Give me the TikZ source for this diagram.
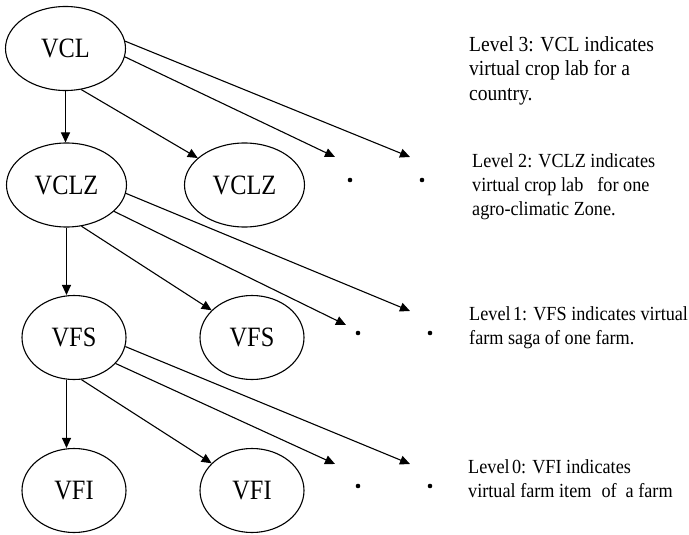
\documentclass[tikz,border=0pt]{standalone}
\usepackage{fontspec}
\setmainfont{Liberation Serif}
\newfontfamily\labelfont[FakeStretch=0.87]{Liberation Serif}
\newfontfamily\notefont[FakeStretch=0.91]{Liberation Serif}
\usetikzlibrary{shapes.geometric,arrows.meta}

\begin{document}
\begin{tikzpicture}[x=1pt,y=-1pt,
  levelnode/.style={ellipse,draw,line width=1.1pt,inner sep=0pt,
    font=\labelfont\fontsize{28}{28}\selectfont},
  wide/.style={levelnode,minimum width=120pt,minimum height=84pt},
  narrow/.style={levelnode,minimum width=104pt,minimum height=84pt},
  dotnode/.style={circle,fill=black,inner sep=0pt,minimum size=4.6pt},
  conn/.style={line width=1.1pt,-{Triangle[length=10pt,width=9pt]}},
  % anchored at the baseline of the last line
  note/.style={anchor=base west,align=left,inner sep=0pt,
    font=\notefont\fontsize{20}{24}\selectfont},
]
\useasboundingbox (0,0) rectangle (689,535);

% hierarchy levels
\node[wide]   (vcl)   at (65.5,48.5) {VCL};
\node[wide]   (vclzA) at (66.5,185)  {VCLZ};
\node[wide]   (vclzB) at (244.5,185) {VCLZ};
\node[narrow] (vfsA)  at (74,337.5)  {VFS};
\node[narrow] (vfsB)  at (252,337.5) {VFS};
\node[narrow] (vfiA)  at (74,490.5)  {VFI};
\node[narrow] (vfiB)  at (252,490.5) {VFI};

% ellipsis dots
\node[dotnode] (d1a) at (350,180) {};
\node[dotnode] (d1b) at (422,180) {};
\node[dotnode] (d2a) at (358,333) {};
\node[dotnode] (d2b) at (430,333) {};
\node[dotnode] (d3a) at (358,486) {};
\node[dotnode] (d3b) at (430,486) {};

% arrow ends above the dots
\coordinate (t1a) at (335,157);
\coordinate (t1b) at (410,157);
\coordinate (t2a) at (346,325);
\coordinate (t2b) at (410,311);
\coordinate (t3a) at (335,464);
\coordinate (t3b) at (410,464);

% level 3 -> level 2
\draw[conn] (vcl.south) -- (vcl.south |- vclzA.north);
\draw[conn] (vcl.-69) -- (vclzB.150);
\draw[conn] (vcl.-8) -- (t1a);
\draw[conn] (vcl.7) -- (t1b);

% level 2 -> level 1
\draw[conn] (vclzA.south) -- (vclzA.south |- vfsA.north);
\draw[conn] (vclzA.-70) -- (vfsB.146);
\draw[conn] (vclzA.-29) -- (t2a);
\draw[conn] (vclzA.-8.5) -- (t2b);

% level 1 -> level 0
\draw[conn] (vclzA.south |- vfsA.south) -- (vclzA.south |- vfiA.north);
\draw[conn] (vfsA.-80) -- (vfiB.146);
\draw[conn] (vfsA.-32) -- (t3a);
\draw[conn] (vfsA.-10) -- (t3b);

% descriptions
\node[note,font=\notefont\fontsize{21.5}{24.5}\selectfont] (n3) at (469,100)
  {Level 3: VCL indicates\\virtual crop lab for a\\country.};
\node[note,font=\notefont\fontsize{20}{23.7}\selectfont] (n2) at (472,215)
  {Level 2: VCLZ indicates\\virtual crop lab\hspace{14pt}for one\\agro-climatic Zone.};
\node[note] (n1) at (469,344.5)
  {Level\hspace{2.5pt}1: VFS indicates virtual\\farm saga of one farm.};
\node[note] (n0) at (468,497.5)
  {Level\hspace{2.5pt}0: VFI indicates\\virtual farm item\hspace{10pt}of\hspace{9pt}a farm};
\end{tikzpicture}
\end{document}
